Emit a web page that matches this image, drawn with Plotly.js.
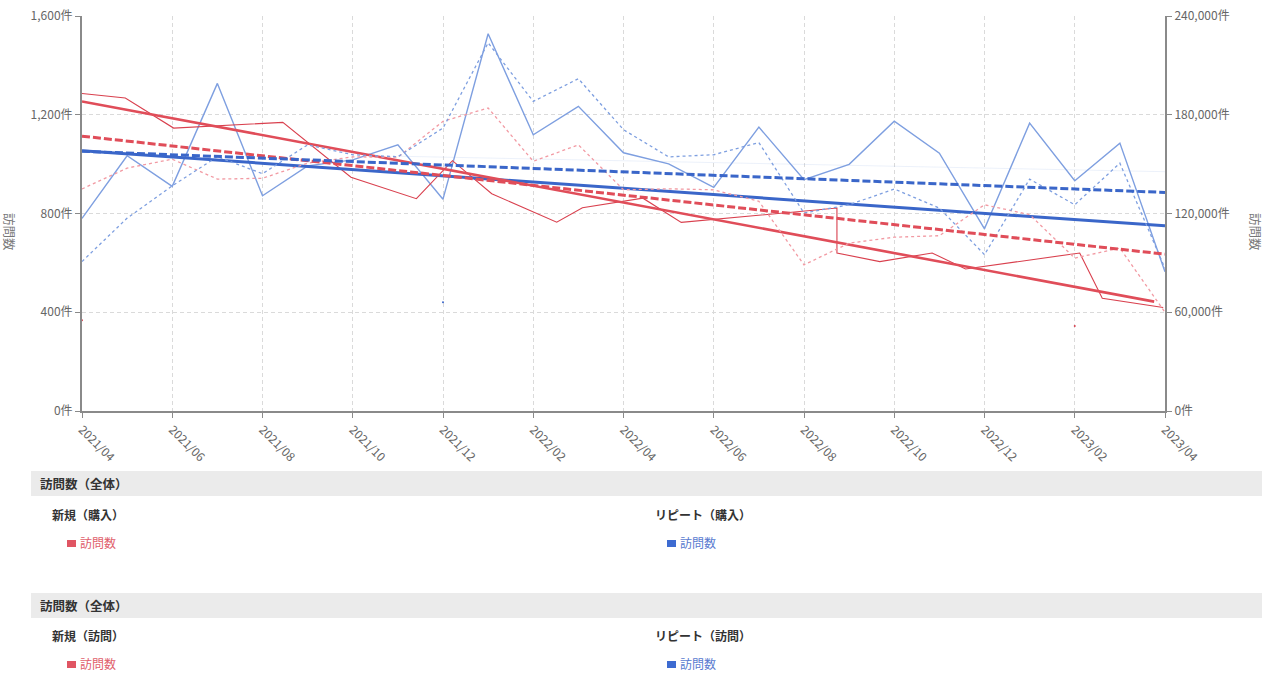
<!DOCTYPE html>
<html>
<head>
<meta charset="utf-8">
<script src="https://cdn.plot.ly/plotly-3.0.1.min.js"></script>
<style>
  body { margin:0; padding:0; background:#fff; font-family:"Noto Sans CJK JP","Noto Sans",sans-serif; }
  #chart { position:absolute; left:0; top:0; width:1282px; height:465px; }
  .bar { position:absolute; left:31px; width:1231px; height:25px; background:#ebebeb; }
  .bar span { position:absolute; left:9px; top:3px; font-size:12.5px; font-weight:bold; color:#333; }
  .sub { position:absolute; font-size:12px; font-weight:bold; color:#333; }
  .item { position:absolute; font-size:12px; }
  .item i { display:inline-block; width:9px; height:7px; margin-right:4px; vertical-align:1px; }
</style>
</head>
<body>
<div id="chart"></div>

<div class="bar" style="top:471px"><span>訪問数（全体）</span></div>
<div class="sub" style="left:52px; top:506px">新規（購入）</div>
<div class="item" style="left:67px; top:534px; color:#e0606c"><i style="background:#e05563"></i>訪問数</div>
<div class="sub" style="left:655px; top:506px">リピート（購入）</div>
<div class="item" style="left:667px; top:534px; color:#5a7bd0"><i style="background:#3d6bd1"></i>訪問数</div>

<div class="bar" style="top:593px"><span>訪問数（全体）</span></div>
<div class="sub" style="left:52px; top:627px">新規（訪問）</div>
<div class="item" style="left:67px; top:655px; color:#e0606c"><i style="background:#e05563"></i>訪問数</div>
<div class="sub" style="left:655px; top:627px">リピート（訪問）</div>
<div class="item" style="left:667px; top:655px; color:#5a7bd0"><i style="background:#3d6bd1"></i>訪問数</div>

<script>
// Month labels (x categories), index positions used on a linear axis
const months = ['2021/04','2021/05','2021/06','2021/07','2021/08','2021/09','2021/10','2021/11','2021/12',
  '2022/01','2022/02','2022/03','2022/04','2022/05','2022/06','2022/07','2022/08','2022/09','2022/10',
  '2022/11','2022/12','2023/01','2023/02','2023/03','2023/04'];
const monthIdx = months.map((_, i) => i);
const tickVals = [0,2,4,6,8,10,12,14,16,18,20,22,24];
const tickText = ['2021/04','2021/06','2021/08','2021/10','2021/12','2022/02','2022/04','2022/06','2022/08','2022/10','2022/12','2023/02','2023/04'];

// 新規（購入） – left axis, irregular positions (month index)
const newBuyX = [0, 0.96, 2.03, 4.45, 5.96, 7.41, 8.21, 9.08, 10.52, 11.09, 12.43, 13.28, 16.73, 16.73, 17.68, 18.84, 19.58, 22.11, 22.61, 23.96];
const newBuyY = [1286, 1268, 1146, 1169, 947, 860, 1014, 880, 765, 823, 862, 764, 822, 640, 605, 640, 575, 640, 457, 419];

// リピート（購入） – left axis, monthly
const repBuyY = [780, 1034, 910, 1327, 872, 993, 1017, 1078, 858, 1528, 1119, 1234, 1046, 1001, 906, 1150, 937, 999, 1174, 1044, 738, 1166, 933, 1085, 564];

// 新規（訪問） – right axis, monthly
const newVisitY = [134900, 147600, 153000, 140900, 141400, 150600, 154400, 154200, 176000, 184100, 151700, 161700, 134400, 135000, 134400, 127400, 88800, 102000, 105600, 106500, 125300, 119300, 92900, 99000, 60000];

// リピート（訪問） – right axis, monthly
const repVisitY = [90800, 117200, 136800, 154500, 144200, 161700, 155700, 154500, 171900, 223700, 188100, 201900, 170900, 154400, 155700, 163100, 120300, 125300, 134900, 123300, 95000, 140900, 125300, 150600, 86700];

// Trend lines (endpoints)
const newBuyTrendX = [0, 23.76];   const newBuyTrendY = [1254, 443];
const repBuyTrendX = [0, 24];      const repBuyTrendY = [1054, 750];
const newVisitTrendX = [0, 24];    const newVisitTrendY = [167000, 95300];
const repVisitTrendX = [0, 24];    const repVisitTrendY = [157800, 132800];
const faintX = [7, 24];            const faintY = [154800, 145400];

// stray single points
const strayRedX = [0, 22];   const strayRedY = [368, 344];
const strayBlueX = [8];      const strayBlueY = [441];

const RED = '#d9404e', RED_T = '#e04d59', PINK = '#f29aa3';
const BLUE_L = '#7e9fe0', BLUE_T = '#3a66c9';

const traces = [
  {x: faintX, y: faintY, yaxis:'y2', mode:'lines', line:{color:'rgba(150,175,230,0.18)', width:1}},
  {x: monthIdx, y: newVisitY, yaxis:'y2', mode:'lines', line:{color:PINK, width:1.3, dash:'dot'}},
  {x: monthIdx, y: repVisitY, yaxis:'y2', mode:'lines', line:{color:BLUE_L, width:1.3, dash:'dot'}},
  {x: monthIdx, y: repBuyY, mode:'lines', line:{color:BLUE_L, width:1.4}},
  {x: newBuyX, y: newBuyY, mode:'lines', line:{color:RED, width:1.1}},
  {x: newVisitTrendX, y: newVisitTrendY, yaxis:'y2', mode:'lines', line:{color:RED_T, width:3, dash:'8px,3px'}},
  {x: repVisitTrendX, y: repVisitTrendY, yaxis:'y2', mode:'lines', line:{color:BLUE_T, width:3, dash:'8px,3px'}},
  {x: repBuyTrendX, y: repBuyTrendY, mode:'lines', line:{color:BLUE_T, width:3}},
  {x: newBuyTrendX, y: newBuyTrendY, mode:'lines', line:{color:RED_T, width:2.6}},
  {x: strayRedX, y: strayRedY, mode:'markers', marker:{color:RED, size:2}},
  {x: strayBlueX, y: strayBlueY, mode:'markers', marker:{color:BLUE_T, size:2}}
];

const axisFont = {family:'"Noto Sans CJK JP", "Noto Sans", sans-serif', size:12, color:'#666'};

const layout = {
  width: 1282, height: 465,
  margin: {l:82, r:117, t:16, b:54},
  showlegend: false,
  paper_bgcolor: '#fff', plot_bgcolor: '#fff',
  font: axisFont,
  xaxis: {
    type:'linear', range:[0,24], tickvals:tickVals, ticktext:tickText, tickangle:45,
    showgrid:true, gridcolor:'#dadada', griddash:'4px,3px', gridwidth:1,
    showline:true, linecolor:'#8a8a8a', linewidth:2, ticks:'outside', ticklen:5, tickcolor:'#8a8a8a',
    zeroline:false, tickfont:axisFont
  },
  yaxis: {
    range:[0,1600], dtick:400, tickformat:',d', ticksuffix:'件',
    showgrid:true, gridcolor:'#dadada', griddash:'4px,3px', gridwidth:1,
    showline:true, linecolor:'#8a8a8a', linewidth:2, ticks:'outside', ticklen:5, tickcolor:'#8a8a8a',
    zeroline:false, tickfont:axisFont
  },
  yaxis2: {
    overlaying:'y', side:'right', range:[0,240000], dtick:60000, tickformat:',d', ticksuffix:'件',
    showgrid:false, showline:true, linecolor:'#8a8a8a', linewidth:2, ticks:'outside', ticklen:5, tickcolor:'#8a8a8a',
    zeroline:false, tickfont:axisFont
  },
  annotations: [
    {text:'訪問数', xref:'paper', yref:'paper', x:(10-82)/1083, y:(411-232)/395, textangle:90,
     xanchor:'center', yanchor:'middle',
     showarrow:false, font:{family:axisFont.family, size:12.5, color:'#777'}},
    {text:'訪問数', xref:'paper', yref:'paper', x:(1256-82)/1083, y:(411-232)/395, textangle:90,
     xanchor:'center', yanchor:'middle',
     showarrow:false, font:{family:axisFont.family, size:12.5, color:'#777'}}
  ]
};

Plotly.newPlot('chart', traces, layout, {displayModeBar:false, staticPlot:true});
</script>
</body>
</html>
